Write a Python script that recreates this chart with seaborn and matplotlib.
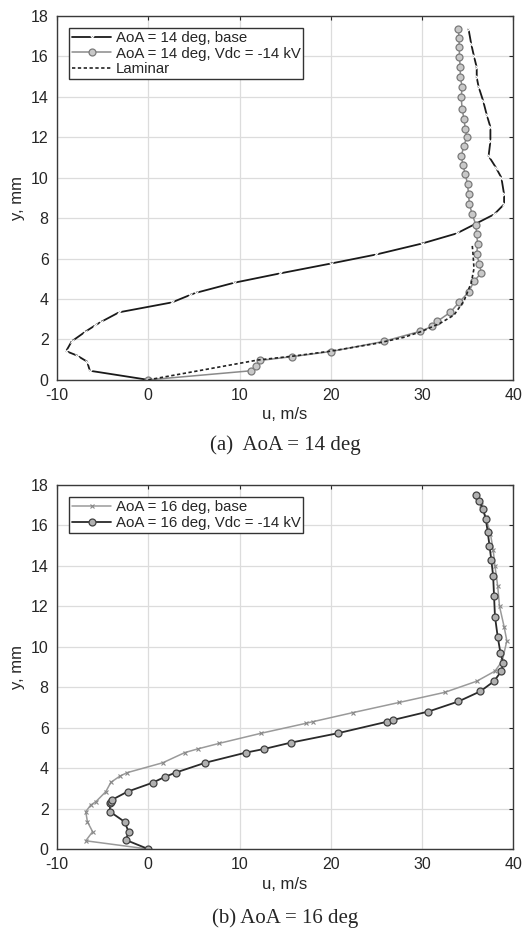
import seaborn as sns
import pandas as pd
import matplotlib.pyplot as plt

# AoA = 14 deg
base14_u = [0, -6.4, -6.7, -7.8, -9.0, -8.4, -6.9, -5.8, -5.2, -3.2, 2.6, 4.6, 5.2, 9.4,
            14.4, 20.0, 25.0, 30.0, 33.8, 37.9, 39.0, 39.0, 38.7, 38.1, 37.3, 37.5, 37.5,
            37.1, 36.7, 36.2, 36.0, 36.0, 35.7, 35.4, 35.1]
base14_y = [0, 0.45, 0.9, 1.2, 1.42, 1.9, 2.38, 2.7, 2.86, 3.34, 3.83, 4.2, 4.3, 4.8,
            5.26, 5.75, 6.2, 6.74, 7.24, 8.18, 8.68, 9.17, 10.0, 10.5, 11.07, 11.8, 12.5,
            13.1, 13.8, 14.5, 14.96, 15.45, 16.0, 16.6, 17.35]
vdc14_u = [0, 11.3, 11.8, 12.3, 15.8, 20.0, 25.8, 29.8, 31.1, 31.7, 33.1, 34.1, 35.1, 35.7,
           36.5, 36.3, 36.0, 36.1, 36.0, 35.9, 35.5, 35.2, 35.1, 35.0, 34.75, 34.5, 34.3,
           34.6, 34.9, 34.75, 34.6, 34.4, 34.3, 34.4, 34.2, 34.2, 34.1, 34.1, 34.05, 34.0]
vdc14_y = [0, 0.45, 0.7, 0.96, 1.15, 1.4, 1.9, 2.4, 2.64, 2.9, 3.34, 3.85, 4.33, 4.87,
           5.29, 5.73, 6.2, 6.73, 7.19, 7.68, 8.18, 8.7, 9.17, 9.67, 10.16, 10.6, 11.07,
           11.57, 12.0, 12.4, 12.9, 13.4, 13.97, 14.5, 14.96, 15.45, 15.95, 16.45, 16.9, 17.35]
lam_u = [0, 12.0, 16.0, 20.0, 25.0, 28.0, 30.0, 32.0, 33.5, 34.6, 35.4, 35.7, 35.6, 35.5]
lam_y = [0, 0.98, 1.18, 1.42, 1.8, 2.1, 2.4, 2.8, 3.2, 3.9, 4.8, 5.5, 6.2, 6.7]

# AoA = 16 deg
base16_u = [0, -6.85, -6.1, -6.67, -6.85, -6.3, -5.75, -4.65, -4.1, -3.1, -2.3, 1.6, 4.0,
            5.4, 7.8, 12.4, 17.3, 18.05, 22.45, 27.5, 32.5, 36.0, 38.0, 38.8, 39.3, 39.0,
            38.5, 38.3, 38.0, 37.8, 37.5, 37.0, 36.5, 36.0]
base16_y = [0, 0.41, 0.86, 1.35, 1.85, 2.18, 2.34, 2.84, 3.3, 3.61, 3.78, 4.27, 4.77,
            4.95, 5.23, 5.73, 6.22, 6.3, 6.75, 7.25, 7.75, 8.3, 8.8, 9.3, 10.3, 11.0,
            12.0, 13.0, 14.0, 14.8, 15.6, 16.4, 17.0, 17.4]
vdc16_u = [0, -2.45, -2.16, -2.6, -4.2, -4.2, -4.1, -4.0, -2.27, 0.47, 1.87, 3.0, 6.26,
           10.7, 12.7, 15.6, 20.8, 26.2, 26.8, 30.7, 34.0, 36.4, 37.9, 38.7, 38.9, 38.6,
           38.3, 38.0, 37.9, 37.8, 37.6, 37.4, 37.2, 37.0, 36.7, 36.3, 35.9]
vdc16_y = [0, 0.45, 0.86, 1.35, 1.85, 2.26, 2.34, 2.43, 2.84, 3.28, 3.58, 3.78, 4.27,
           4.77, 4.95, 5.26, 5.73, 6.3, 6.38, 6.8, 7.3, 7.8, 8.3, 8.8, 9.2, 9.7,
           10.5, 11.5, 12.5, 13.5, 14.3, 15.0, 15.7, 16.3, 16.8, 17.2, 17.5]

sns.set_style("whitegrid")
plt.rcParams['font.family'] = ['Liberation Sans', 'DejaVu Sans']
plt.rcParams['axes.unicode_minus'] = False

fig = plt.figure(figsize=(5.28, 9.31), dpi=100)
ax1 = fig.add_axes([0.108, 0.592, 0.864, 0.391])
ax2 = fig.add_axes([0.108, 0.088, 0.864, 0.391])


def line(ax, u, y, **kw):
    df = pd.DataFrame({"u": u, "y": y})
    sns.lineplot(data=df, x="u", y="y", sort=False, estimator=None, ax=ax, **kw)


line(ax1, base14_u, base14_y, color="#1a1a1a", lw=1.3, marker="x", markersize=3,
     mew=0.8, label="AoA = 14 deg, base")
line(ax1, vdc14_u, vdc14_y, color="#8a8a8a", lw=1.1, marker="o", markersize=5,
     mfc="#c8c8c8", mec="#7a7a7a", mew=0.9, label="AoA = 14 deg, Vdc = -14 kV")
line(ax1, lam_u, lam_y, color="#222222", lw=1.2, linestyle=(0, (2, 1.5)), label="Laminar")

line(ax2, base16_u, base16_y, color="#9a9a9a", lw=1.1, marker="x", markersize=3,
     mew=0.8, mec="#888888", label="AoA = 16 deg, base")
line(ax2, vdc16_u, vdc16_y, color="#2a2a2a", lw=1.3, marker="o", markersize=5,
     mfc="#b0b0b0", mec="#404040", mew=0.9, label="AoA = 16 deg, Vdc = -14 kV")

for ax in (ax1, ax2):
    ax.set_xlim(-10, 40)
    ax.set_ylim(0, 18)
    ax.set_xticks(range(-10, 41, 10))
    ax.set_yticks(range(0, 19, 2))
    ax.grid(True, color="#dcdcdc", lw=0.9)
    ax.tick_params(direction="in", length=3, top=True, right=True, labelsize=11.5,
                   colors="#262626", pad=6)
    for s in ax.spines.values():
        s.set_color("#3a3a3a")
        s.set_linewidth(1.0)
    ax.set_xlabel("u, m/s", fontsize=12, labelpad=3)
    ax.set_ylabel("y, mm", fontsize=12, labelpad=4)
    leg = ax.legend(loc="upper left", fontsize=10.8, frameon=True, fancybox=False,
                    borderpad=0.2, labelspacing=0.12, handlelength=2.6,
                    handletextpad=0.3, borderaxespad=0.8)
    leg.get_frame().set_edgecolor("#333333")
    leg.get_frame().set_linewidth(1.0)
    leg.get_frame().set_alpha(1)

fig.text(0.54, 1 - 445 / 931, "(a)  AoA = 14 deg", family="Liberation Serif",
         fontsize=15, ha="center", va="center")
fig.text(0.54, 1 - 918 / 931, "(b) AoA = 16 deg", family="Liberation Serif",
         fontsize=15, ha="center", va="center")

fig.savefig("out.png", dpi=100)
